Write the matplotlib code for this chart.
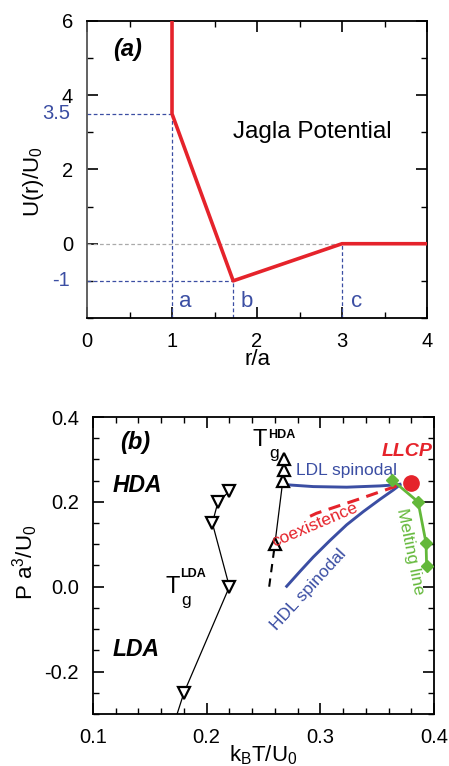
import matplotlib
matplotlib.use("Agg")
import matplotlib.pyplot as plt
import matplotlib.transforms as mtransforms
from matplotlib.ticker import MultipleLocator

plt.rcParams['font.family'] = ['Liberation Sans', 'DejaVu Sans']
plt.rcParams['mathtext.fontset'] = 'custom'
plt.rcParams['mathtext.rm'] = 'Liberation Sans'
plt.rcParams['mathtext.it'] = 'Liberation Sans:italic'
plt.rcParams['mathtext.bf'] = 'Liberation Sans:bold'

RED = '#e5232b'
BLUE = '#3b4ea3'
GREEN = '#63b83a'

# --- panel (a): Jagla potential ---
jagla_r = [1.0, 1.0, 1.72, 3.0, 4.0]
jagla_u = [6.0, 3.5, -1.0, 0.0, 0.0]
r_a, r_b, r_c = 1.0, 1.72, 3.0
u_hard, u_min = 3.5, -1.0

# --- panel (b): phase diagram ---
tg_lda_T = [0.174, 0.18, 0.22, 0.205, 0.21, 0.22]
tg_lda_P = [-0.30, -0.25, 0.0, 0.15, 0.20, 0.225]
tg_hda_T = [0.26, 0.267, 0.268, 0.268]
tg_hda_P = [0.10, 0.25, 0.275, 0.30]
tg_hda_ext_T = [0.255, 0.26]
tg_hda_ext_P = [0.0, 0.10]
ldl_T = [0.2718, 0.2938, 0.3232, 0.3525, 0.3657, 0.370]
ldl_P = [0.240, 0.236, 0.2346, 0.2376, 0.240, 0.2415]
hdl_T = [0.2704, 0.2821, 0.2938, 0.3085, 0.3232, 0.3378, 0.3525, 0.3642, 0.370]
hdl_P = [0.001, 0.036, 0.070, 0.109, 0.146, 0.177, 0.206, 0.228, 0.240]
coex_T = [0.291, 0.2965, 0.3334, 0.3657, 0.370]
coex_P = [0.166, 0.173, 0.206, 0.236, 0.241]
llcp_T, llcp_P = 0.38, 0.245
melt_T = [0.363, 0.386, 0.393, 0.3935]
melt_P = [0.252, 0.20, 0.103, 0.049]

fig = plt.figure(figsize=(4.49, 7.66), dpi=100)
ax1 = fig.add_axes([0.1938, 0.5849, 0.7572, 0.3877])
ax2 = fig.add_axes([0.2071, 0.0679, 0.7595, 0.3877])

for ax in (ax1, ax2):
    ax.tick_params(which='both', direction='in', top=True, right=True,
                   labelsize=14.5, pad=10)
    ax.tick_params(which='major', length=8, width=1.2)
    ax.tick_params(which='minor', length=4, width=1.0)
    for s in ax.spines.values():
        s.set_linewidth(1.3)

# panel (a)
ax1.set_xlim(0, 4)
ax1.set_ylim(-2, 6)
ax1.set_xticks([0, 1, 2, 3, 4])
ax1.xaxis.set_minor_locator(MultipleLocator(0.5))
ax1.set_yticks([0, 2, 4, 6])
ax1.yaxis.set_minor_locator(MultipleLocator(1))
ax1.spines['left'].set_color('#555555')

ax1.plot([0, r_c], [0, 0], color='#aaaaaa', lw=0.9, ls=(0, (3, 2)))
dkw = dict(color=BLUE, lw=0.9, ls=(0, (3, 2)))
ax1.plot([0, r_a], [u_hard, u_hard], **dkw)
ax1.plot([r_a, r_a], [-2, u_hard], **dkw)
ax1.plot([0, r_b], [u_min, u_min], **dkw)
ax1.plot([r_b, r_b], [-2, u_min], **dkw)
ax1.plot([r_c, r_c], [-2, 0], **dkw)
ax1.plot(jagla_r, jagla_u, color=RED, lw=2.6, zorder=5)

trans = mtransforms.blended_transform_factory(ax1.transAxes, ax1.transData)
ax1.text(-0.05, u_hard, '3.5', transform=trans, ha='right', va='center',
         fontsize=14.5, color=BLUE)
ax1.text(-0.05, u_min, '-1', transform=trans, ha='right', va='center',
         fontsize=14.5, color=BLUE)
for xx, lab in [(r_a + 0.15, 'a'), (r_b + 0.16, 'b'), (r_c + 0.17, 'c')]:
    ax1.text(xx, -1.55, lab, ha='center', va='center', fontsize=16, color=BLUE)
ax1.text(1.72, 3.0, 'Jagla Potential', ha='left', va='center', fontsize=17.5)
ax1.text(0.48, 5.24, '(a)', ha='center', va='center', fontsize=17,
         fontweight='bold', style='italic')
ax1.set_xlabel('r/a', fontsize=16)
ax1.xaxis.set_label_coords(0.5, -0.105)
ax1.set_ylabel('U(r)/U$_0$', fontsize=16)
ax1.yaxis.set_label_coords(-0.12, 0.46)

# panel (b)
ax2.set_xlim(0.1, 0.4)
ax2.set_ylim(-0.3, 0.4)
ax2.set_xticks([0.1, 0.2, 0.3, 0.4])
ax2.xaxis.set_minor_locator(MultipleLocator(0.02))
ax2.set_yticks([-0.2, 0.0, 0.2, 0.4])
ax2.set_yticklabels(['-0.2', '0.0', '0.2', '0.4'])
ax2.yaxis.set_minor_locator(MultipleLocator(0.05))

ax2.plot(tg_lda_T, tg_lda_P, color='black', lw=0.9, marker='v', ms=9,
         mfc='white', mec='black', mew=1.6, markevery=[1, 2, 3, 4, 5],
         zorder=4)
ax2.plot(tg_hda_ext_T, tg_hda_ext_P, color='black', lw=1.5, ls=(0, (4, 3)))
ax2.plot(tg_hda_T, tg_hda_P, color='black', lw=0.9, marker='^', ms=9,
         mfc='white', mec='black', mew=1.6, zorder=4)
ax2.plot(ldl_T, ldl_P, color=BLUE, lw=2.1)
ax2.plot(hdl_T, hdl_P, color=BLUE, lw=2.1)
ax2.plot(coex_T, coex_P, color=RED, lw=2.2, ls=(0, (4, 2.5)))
ax2.plot(melt_T, melt_P, color=GREEN, lw=2, marker='D', ms=6.5,
         mfc=GREEN, mec=GREEN, zorder=5)
ax2.plot([llcp_T], [llcp_P], 'o', color=RED, ms=11, zorder=6)

ax2.text(0.137, 0.339, '(b)', ha='center', va='center', fontsize=17,
         fontweight='bold', style='italic')
ax2.text(0.117, 0.238, 'HDA', ha='left', va='center', fontsize=16.5,
         fontweight='bold', style='italic')
ax2.text(0.117, -0.147, 'LDA', ha='left', va='center', fontsize=16.5,
         fontweight='bold', style='italic')
ax2.text(0.170, 0.0, 'T', ha='center', va='center', fontsize=17)
ax2.text(0.178, -0.032, 'g', ha='left', va='center', fontsize=12.5)
ax2.text(0.177, 0.031, 'LDA', ha='left', va='center', fontsize=9,
         fontweight='bold')
ax2.text(0.247, 0.345, 'T', ha='center', va='center', fontsize=17)
ax2.text(0.255, 0.313, 'g', ha='left', va='center', fontsize=12.5)
ax2.text(0.254, 0.358, 'HDA', ha='left', va='center', fontsize=9,
         fontweight='bold')
ax2.text(0.376, 0.318, 'LLCP', ha='center', va='center', fontsize=14,
         fontweight='bold', style='italic', color=RED)
ax2.text(0.279, 0.274, 'LDL spinodal', ha='left', va='center', fontsize=12.5,
         color=BLUE)
ax2.text(0.2895, -0.007, 'HDL spinodal', ha='center', va='center',
         fontsize=12.5, color=BLUE, rotation=47.5)
ax2.text(0.2953, 0.146, 'coexistence', ha='center', va='center',
         fontsize=12.5, color=RED, rotation=23, zorder=7)
ax2.text(0.379, 0.083, 'Melting line', ha='center', va='center',
         fontsize=12.5, color=GREEN, rotation=-78.5)

ax2.set_xlabel(r'k$_\mathrm{B}$T/U$_0$', fontsize=16)
ax2.xaxis.set_label_coords(0.5, -0.098)
ax2.set_ylabel(r'P a$^3$/U$_0$', fontsize=16)
ax2.yaxis.set_label_coords(-0.155, 0.51)

fig.savefig('out.png', dpi=100)
